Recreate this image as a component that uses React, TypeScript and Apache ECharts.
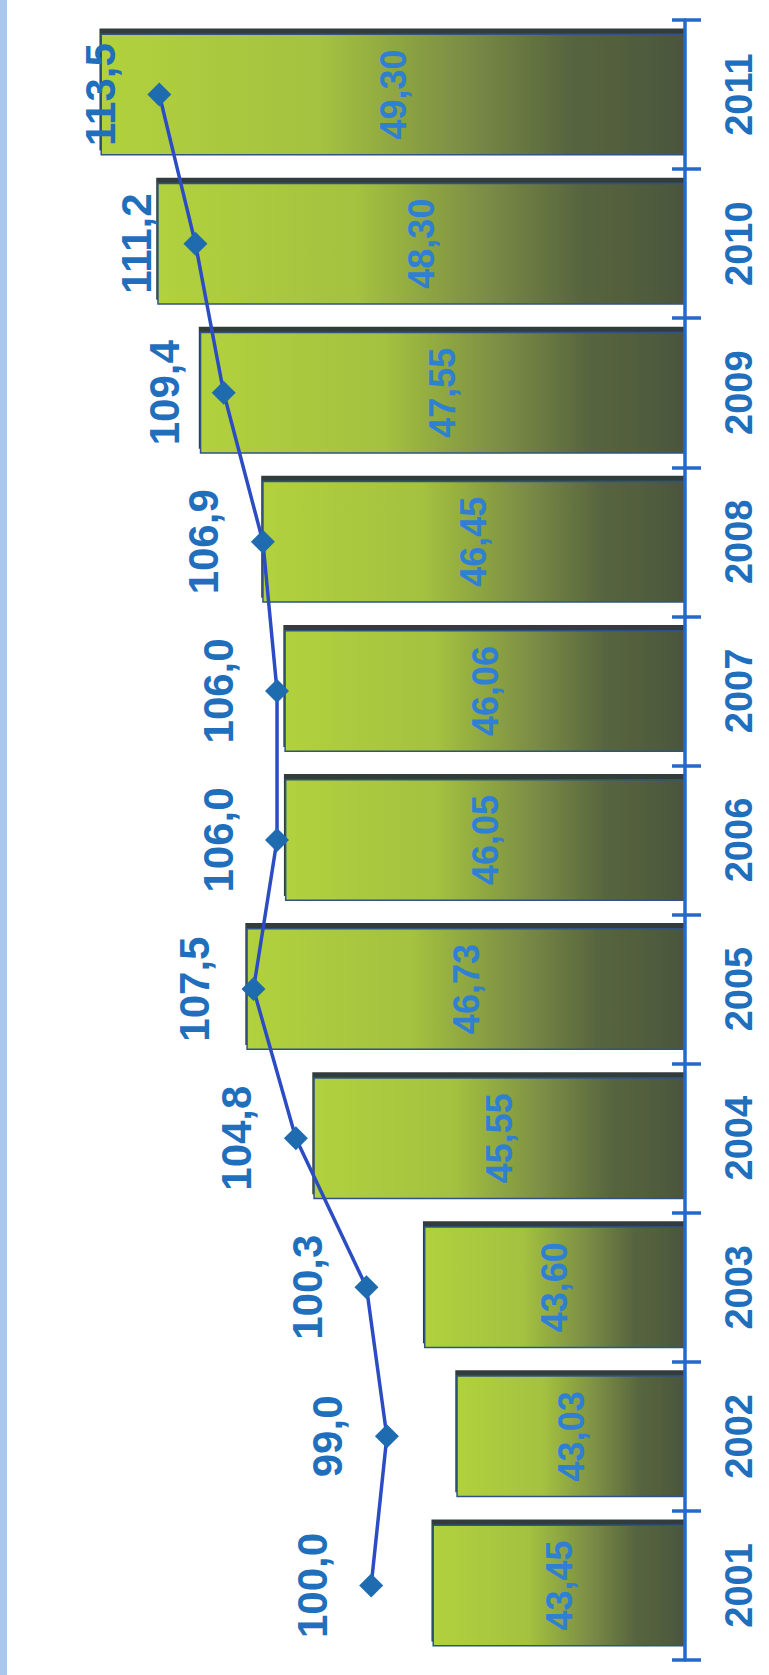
import React, { useEffect, useRef } from "react";
import * as echarts from "echarts";

const years = ["2001", "2002", "2003", "2004", "2005", "2006", "2007", "2008", "2009", "2010", "2011"];
const barValues = [43.45, 43.03, 43.6, 45.55, 46.73, 46.05, 46.06, 46.45, 47.55, 48.3, 49.3];
const indexValues = [100.0, 99.0, 100.3, 104.8, 107.5, 106.0, 106.0, 106.9, 109.4, 111.2, 113.5];

const FONT = "'Liberation Sans', Arial, sans-serif";
const BLUE_TEXT = "#1f6fbd";
const comma = (v: number, d: number) => v.toFixed(d).replace(".", ",");

export default function App() {
  const ref = useRef<HTMLDivElement>(null);
  useEffect(() => {
    if (!ref.current) return;
    const chart = echarts.init(ref.current, undefined, { renderer: "svg" });
    chart.setOption({
      animation: false,
      backgroundColor: "#ffffff",
      graphic: [
        { type: "rect", left: 0, top: 0, shape: { width: 7, height: 1675 }, style: { fill: "#a9c8ee" }, z: -1 },
      ],
      grid: { left: 4, right: 84, top: 20, bottom: 15 },
      xAxis: [
        { type: "value", min: 39, max: 51, inverse: true, show: false },
        { type: "value", min: 80, max: 123.4, inverse: true, show: false },
      ],
      yAxis: [
        {
          type: "category",
          data: years,
          position: "right",
          axisLine: { show: true, lineStyle: { color: "#2468c8", width: 3.5 } },
          axisTick: { show: true, inside: false, length: 16, lineStyle: { color: "#2468c8", width: 3.5 } },
          axisLabel: {
            rotate: 90,
            margin: 35,
            fontSize: 38,
            fontWeight: "bold",
            fontFamily: FONT,
            color: BLUE_TEXT,
          },
          splitLine: { show: false },
          z: 5,
        },
        {
          type: "category",
          data: years,
          position: "right",
          axisLine: { show: false },
          axisTick: { show: true, inside: true, length: 13, lineStyle: { color: "#2468c8", width: 3.5 } },
          axisLabel: { show: false },
          splitLine: { show: false },
          z: 5,
        },
      ],
      series: [
        {
          type: "bar",
          data: barValues,
          xAxisIndex: 0,
          yAxisIndex: 0,
          barWidth: 122,
          itemStyle: {
            color: {
              type: "linear",
              x: 0,
              y: 0,
              x2: 1,
              y2: 0,
              colorStops: [
                { offset: 0, color: "#b2d13e" },
                { offset: 0.38, color: "#a4c13f" },
                { offset: 0.62, color: "#7b8d45" },
                { offset: 0.8, color: "#58653f" },
                { offset: 1, color: "#4a563c" },
              ],
            },
            borderColor: "#2f5582",
            borderWidth: 1.5,
            shadowColor: "#303c3a",
            shadowOffsetY: -5,
            shadowOffsetX: -1,
            shadowBlur: 1,
          },
          label: {
            show: true,
            position: "inside",
            rotate: 90,
            fontSize: 36,
            fontWeight: "bold",
            fontFamily: FONT,
            color: "#2f80d2",
            formatter: (p: any) => comma(p.value, 2),
          },
        },
        {
          type: "line",
          data: indexValues,
          xAxisIndex: 1,
          yAxisIndex: 0,
          symbol: "diamond",
          symbolSize: 24,
          lineStyle: { color: "#2c4cc4", width: 3.5 },
          itemStyle: { color: "#1f6bb0" },
          label: {
            show: true,
            position: "left",
            distance: 47,
            rotate: 90,
            align: "center",
            verticalAlign: "middle",
            fontSize: 42,
            fontWeight: "bold",
            fontFamily: FONT,
            color: BLUE_TEXT,
            formatter: (p: any) => comma(p.value, 1),
          },
          z: 4,
        },
      ],
    });
    return () => chart.dispose();
  }, []);
  return <div ref={ref} style={{ position: "absolute", left: 0, top: 0, width: 769, height: 1675 }} />;
}
